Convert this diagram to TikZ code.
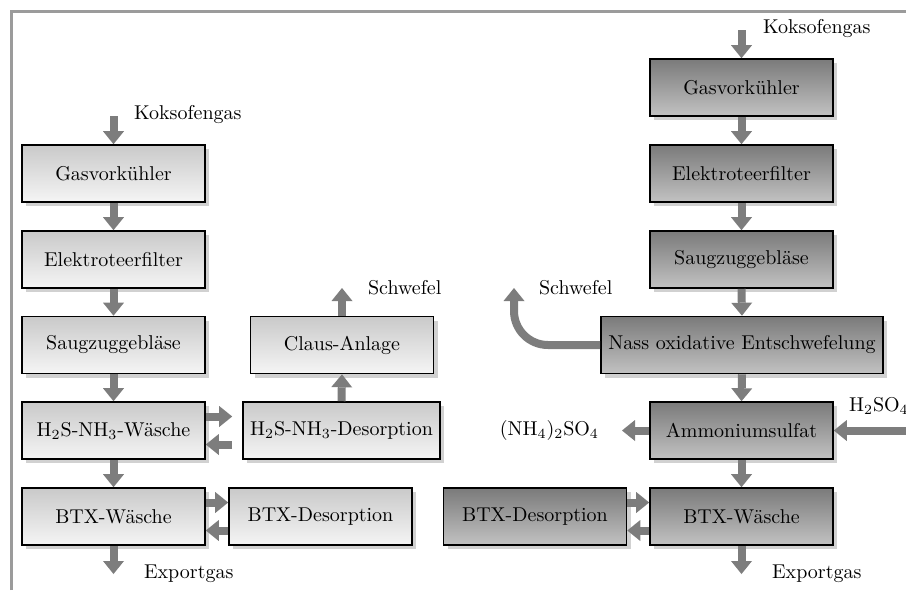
\documentclass[tikz,border=0pt]{standalone}
\usepackage{amsmath}
\usepackage{tikz}
\usetikzlibrary{arrows.meta,shadows}

\definecolor{flowgray}{RGB}{125,125,125}
\definecolor{framegray}{RGB}{155,155,155}

\begin{document}
\begin{tikzpicture}[x=0.5pt, y=-0.5pt,
    box/.style={draw=black, thick, minimum width=91.5pt, minimum height=28.5pt,
      drop shadow={shadow xshift=2pt, shadow yshift=-2pt, fill=black!30, opacity=0.6}},
    lightbox/.style={box, top color=black!21, bottom color=black!4},
    darkbox/.style={box, top color=black!52, bottom color=black!24},
    flow/.style={draw=flowgray, line width=4pt, -{Triangle[width=10.5pt,length=6.5pt,line width=0pt]}},
  ]

    \useasboundingbox (0,0) rectangle (906,590);

    % Frame
    \draw[framegray, line width=1.5pt] (11,590) -- (11,11) -- (906,11);

    % Left process (Claus)
    \node[lightbox] (lgas) at (113.5,173.5) {Gasvorkühler};
    \node[lightbox] (lfilter) at (113.5,259.5) {Elektroteerfilter};
    \node[lightbox] (lgeb) at (113.5,345) {Saugzuggebläse};
    \node[lightbox] (lwasch) at (113.5,430.5) {H$_2$S-NH$_3$-Wäsche};
    \node[lightbox] (lbtx) at (113.5,516.5) {BTX-Wäsche};
    \node[lightbox] (claus) at (342,345) {Claus-Anlage};
    \node[lightbox, minimum width=98.5pt] (ldes) at (341.5,430.5) {H$_2$S-NH$_3$-Desorption};
    \node[lightbox] (lbtxdes) at (320.5,516.5) {BTX-Desorption};

    % Right process (Nass oxidativ)
    \node[darkbox] (rgas) at (741.5,87.5) {Gasvorkühler};
    \node[darkbox] (rfilter) at (741.5,173.5) {Elektroteerfilter};
    \node[darkbox] (rgeb) at (741.5,259.5) {Saugzuggebläse};
    \node[darkbox, minimum width=141pt] (nass) at (742,345) {Nass oxidative Entschwefelung};
    \node[darkbox] (amm) at (741.5,430.5) {Ammoniumsulfat};
    \node[darkbox] (rbtx) at (741.5,516.5) {BTX-Wäsche};
    \node[darkbox] (rbtxdes) at (535,516.5) {BTX-Desorption};

    % Free ends
    \coordinate (lin) at (113.5,116);
    \coordinate (lout) at (113.5,574);
    \coordinate (lsulf) at (342,288);
    \coordinate (rin) at (741.5,30);
    \coordinate (rout) at (741.5,574);
    \coordinate (rsulf) at (514,288);
    \coordinate (amso) at (622,430.5);
    \coordinate (acid) at (906,430.5);

    % Labels
    \node[anchor=west] (lkoks) at (127,115) {Koksofengas};
    \node[anchor=west] (rkoks) at (756,29) {Koksofengas};
    \node[anchor=west] (lexp) at (137,574) {Exportgas};
    \node[anchor=west] (rexp) at (765,574) {Exportgas};
    \node[anchor=west] (lsch) at (361,288) {Schwefel};
    \node[anchor=west] (rsch) at (532,288) {Schwefel};
    \node[anchor=east] (lamso) at (606,430.5) {(NH$_4$)$_2$SO$_4$};
    \node[anchor=west] (lacid) at (842,406) {H$_2$SO$_4$};

    % Main gas flow
    \foreach \a/\b in {lgas/lfilter, lfilter/lgeb, lgeb/lwasch, lwasch/lbtx,
                       rgas/rfilter, rfilter/rgeb, rgeb/nass, nass/amm, amm/rbtx} {
      \draw[flow] (\a.south) -- (\b.north);
    }
    \draw[flow] (lin) -- (lgas.north);
    \draw[flow] (rin) -- (rgas.north);
    \draw[flow] (lbtx.south) -- (lout);
    \draw[flow] (rbtx.south) -- (rout);

    % Side streams
    \draw[flow] (claus.north) -- (lsulf);
    \draw[flow] (ldes.north) -- (claus.south);
    \draw[flow, rounded corners=17pt] (nass.west) -| (rsulf);
    \draw[flow] (amm.west) -- (amso);
    \draw[flow] (acid) -- (amm.east);

    % Wash / desorption loops
    \draw[flow, shorten >=5pt] ([yshift=7pt]lwasch.east) -- ([yshift=7pt]ldes.west);
    \draw[flow, shorten <=5pt] ([yshift=-7pt]ldes.west) -- ([yshift=-7pt]lwasch.east);
    \draw[flow] ([yshift=7pt]lbtx.east) -- ([yshift=7pt]lbtxdes.west);
    \draw[flow] ([yshift=-7pt]lbtxdes.west) -- ([yshift=-7pt]lbtx.east);
    \draw[flow] ([yshift=7pt]rbtxdes.east) -- ([yshift=7pt]rbtx.west);
    \draw[flow] ([yshift=-7pt]rbtx.west) -- ([yshift=-7pt]rbtxdes.east);
  \end{tikzpicture}
\end{document}
